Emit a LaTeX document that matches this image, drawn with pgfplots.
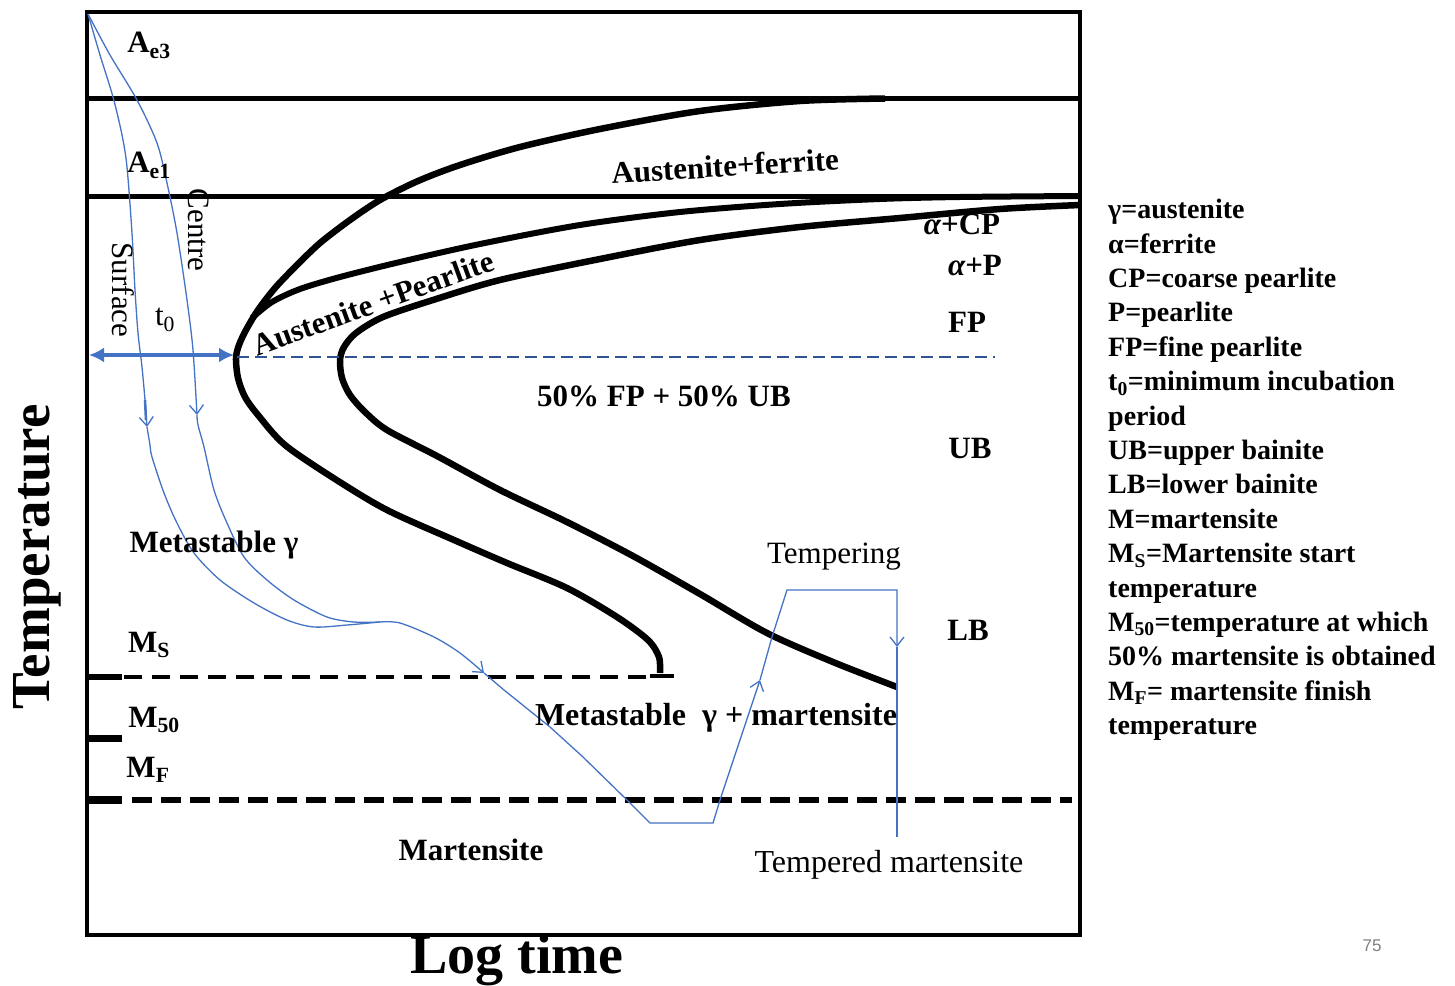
\documentclass[border=0pt]{standalone}
\usepackage{pgfplots}
\pgfplotsset{compat=1.18}
\usepackage{fontspec}
\setmainfont{Liberation Serif}
\setsansfont{Liberation Sans}
\usetikzlibrary{arrows.meta}
\definecolor{bl}{RGB}{68,114,196}
\definecolor{dbl}{RGB}{46,84,150}
\newcommand{\lab}{\fontsize{31}{36}\selectfont\bfseries}
\newcommand{\labr}{\fontsize{31}{36}\selectfont}
\begin{document}
\begin{tikzpicture}
\useasboundingbox (0,0) rectangle (1455pt,985pt);
\begin{axis}[at={(87pt,50pt)}, anchor=south west, scale only axis,
  width=993pt, height=923pt, xmin=87, xmax=1080, ymin=12, ymax=935,
  y dir=reverse, xtick=\empty, ytick=\empty, clip=false,
  axis line style={line width=4pt}]

% labels partly hidden by curves
\node[font=\lab] at (axis cs:962,224) {\itshape α\upshape+CP};

% Ae3 and Ae1 lines
\addplot[black, line width=5pt] coordinates {(87,98) (1080,98)};
\addplot[black, line width=5pt] coordinates {(87,196) (1080,196)};

% outer C-curve
\addplot[black, line width=6.5pt, smooth, tension=0.5] coordinates {
(885,98.5) (800,101) (700,111) (600,129) (520,147) (460,165) (418,181) (380,200) (350,220) (320,243) (296,266) (275,288) (258,310) (246,330) (239,345) (236,358)
(238,378) (245,397) (258,415) (285,445) (335,479) (387,510) (454,540) (507,563) (567,588) (617,617) (648,640) (659,657) (660,673)};
\addplot[black, line width=4pt] coordinates {(650,676) (674,676)};

% middle curve
\addplot[black, line width=6pt, smooth, tension=0.5] coordinates {
(252,318) (272,302) (300,289) (340,277) (400,262) (480,244) (580,225) (680,212) (780,204) (880,199) (960,197) (1080,196)};

% inner curve
\addplot[black, line width=6.5pt, smooth, tension=0.5] coordinates {
(1080,205) (1000,209) (900,218) (800,227) (700,240) (600,259) (500,280) (433,300) (383,317) (356,333) (344,347) (340,360)
(342,378) (350,395) (365,412) (387,430) (437,456) (500,490) (567,522) (633,556) (700,594) (767,633) (833,662) (897,687)};

% left ticks and dashed lines
\addplot[black, line width=6pt] coordinates {(87,677) (122,677)};
\addplot[black, line width=7pt] coordinates {(87,738) (122,738)};
\addplot[black, line width=8pt] coordinates {(87,800) (122,800)};
\addplot[black, line width=3.5pt, dash pattern=on 18pt off 10pt] coordinates {(124,677) (650,677)};
\addplot[black, line width=5.5pt, dash pattern=on 20pt off 9pt] coordinates {(132,800) (1072,800)};

% t0 arrow and blue dashed line
\addplot[dbl, line width=2.5pt, dash pattern=on 12pt off 6pt] coordinates {(237,357) (995,357)};
\addplot[bl, line width=3.5pt, {Latex[length=15pt,width=15pt]}-{Latex[length=15pt,width=15pt]}] coordinates {(89,355) (234,355)};

% cooling curves
\addplot[bl, line width=1.3pt, smooth, tension=0.5, -{Straight Barb[length=9pt,width=14pt]}] coordinates {
(88,14) (100,55) (113,97) (122,135) (127,167) (132,233) (135,290) (138,333) (142,367) (145,400) (147,427)};
\addplot[bl, line width=2.5pt] coordinates {(145,400) (146,420)};
\addplot[bl, line width=1.3pt, smooth, tension=0.5, -{Straight Barb[length=9pt,width=14pt]}] coordinates {
(88,14) (110,55) (137,100) (157,143) (167,183) (177,233) (187,300) (193,350) (197,415)};
\addplot[bl, line width=1.3pt, smooth, tension=0.5] coordinates {
(147,427) (150,445) (152,457) (164,493) (177,523) (194,553) (220,580) (254,603) (287,620) (314,627) (347,625) (380,622)};
\addplot[bl, line width=1.3pt, smooth, tension=0.5] coordinates {
(197,415) (198,425) (204,447) (214,490) (227,523) (244,557) (267,580) (294,600) (327,617) (354,622) (380,622)};
\addplot[bl, line width=1.3pt, smooth, tension=0.5, -{Straight Barb[length=9pt,width=14pt]}] coordinates {
(380,622) (400,623) (434,637) (460,653) (484,673)};
\addplot[bl, line width=1.3pt, -{Straight Barb[length=9pt,width=14pt]}] coordinates {
(484,673) (504,690) (550,727) (583,757) (627,800) (650,823) (713,823) (720,800) (760,680)};
\addplot[bl, line width=1.3pt, -{Straight Barb[length=9pt,width=14pt]}] coordinates {
(760,680) (772,637) (787,590) (897,590) (897,647)};
\addplot[bl, line width=1.3pt] coordinates {(897,647) (897,837)};

% region labels
\node[font=\lab] at (axis cs:149,45) {A\textsubscript{e3}};
\node[font=\lab] at (axis cs:149,165) {A\textsubscript{e1}};
\node[font=\labr, rotate=-90] at (axis cs:199,230) {Centre};
\node[font=\labr, rotate=-90] at (axis cs:123,290) {Surface};
\node[font=\labr] at (axis cs:165,320) {t\textsubscript{0}};
\node[font=\lab, rotate=3.5] at (axis cs:725,166) {Austenite+ferrite};
\node[font=\lab, rotate=20] at (axis cs:373,303) {Austenite +Pearlite};
\node[font=\lab] at (axis cs:975,266) {\itshape α\upshape+P};
\node[font=\lab] at (axis cs:967,322) {FP};
\node[font=\lab] at (axis cs:664,396) {50\% FP + 50\% UB};
\node[font=\lab] at (axis cs:970,448) {UB};
\node[font=\lab] at (axis cs:968,630) {LB};
\node[font=\lab] at (axis cs:214,545) {Metastable γ};
\node[font=\labr] at (axis cs:834,557) {Tempering};
\node[font=\lab] at (axis cs:149,645) {M\textsubscript{S}};
\node[font=\lab] at (axis cs:154,720) {M\textsubscript{50}};
\node[font=\lab] at (axis cs:148,770) {M\textsubscript{F}};
\node[font=\fontsize{32}{36}\selectfont\bfseries] at (axis cs:716,718) {Metastable\ \ γ + martensite};
\node[font=\lab] at (axis cs:471,850) {Martensite};
\node[font=\fontsize{32}{36}\selectfont] at (axis cs:889,865) {Tempered martensite};

% axis titles
\node[font=\fontsize{56}{60}\selectfont\bfseries] at (axis cs:517,960) {Log time};
\node[font=\fontsize{55}{60}\selectfont\bfseries, rotate=90] at (axis cs:37,557) {Temperature};

% legend text
\node[anchor=north west, align=left, inner sep=0pt,
  font=\fontsize{28}{34.4}\selectfont\bfseries] at (axis cs:1108,199) {%
γ=austenite\\
α=ferrite\\
CP=coarse pearlite\\
P=pearlite\\
FP=fine pearlite\\
t\textsubscript{0}=minimum incubation\\
period\\
UB=upper bainite\\
LB=lower bainite\\
M=martensite\\
M\textsubscript{S}=Martensite start\\
temperature\\
M\textsubscript{50}=temperature at which\\
50\% martensite is obtained\\
M\textsubscript{F}= martensite finish\\
temperature};

\node[font=\fontsize{17}{20}\selectfont\sffamily, text=gray] at (axis cs:1372,946) {75};
\end{axis}
\end{tikzpicture}
\end{document}
